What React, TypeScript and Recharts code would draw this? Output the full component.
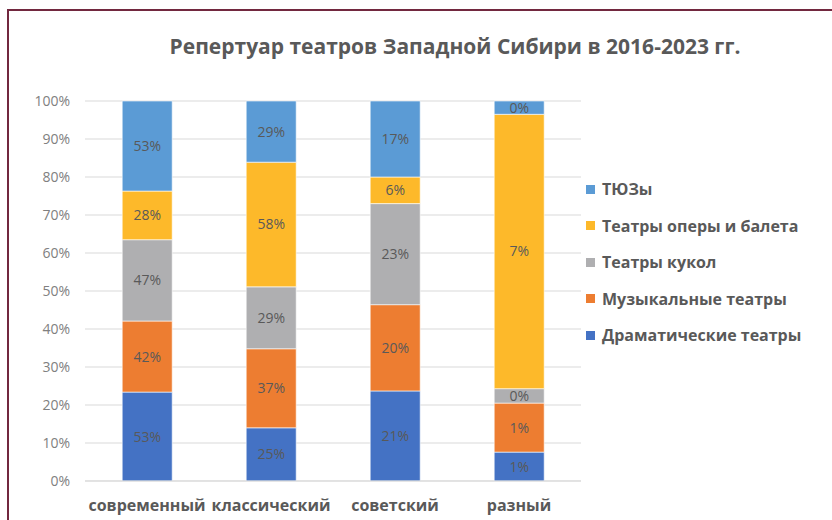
import { Bar, BarChart, CartesianGrid, LabelList, XAxis, YAxis } from "recharts";

const categories = ["современный", "классический", "советский", "разный"];

// segment heights (share of each bar)
const dramaShare = [23.4, 14.0, 23.7, 7.6];
const musicShare = [18.7, 20.8, 22.7, 12.9];
const puppetShare = [21.4, 16.3, 26.6, 3.8];
const operaShare = [12.8, 32.8, 7.0, 72.2];
const youthShare = [23.7, 16.1, 20.0, 3.5];

// data labels as printed on the segments
const dramaLabels = ["53%", "25%", "21%", "1%"];
const musicLabels = ["42%", "37%", "20%", "1%"];
const puppetLabels = ["47%", "29%", "23%", "0%"];
const operaLabels = ["28%", "58%", "6%", "7%"];
const youthLabels = ["53%", "29%", "17%", "0%"];

const yTicks = [0, 0.1, 0.2, 0.3, 0.4, 0.5, 0.6, 0.7, 0.8, 0.9, 1];

const FONT = "'Open Sans', 'Noto Sans', sans-serif";
const TEXT = "#595959";

const series = [
  { key: "drama", name: "Драматические театры", color: "#4472C4", share: dramaShare, labels: dramaLabels },
  { key: "music", name: "Музыкальные театры", color: "#ED7D31", share: musicShare, labels: musicLabels },
  { key: "puppet", name: "Театры кукол", color: "#AFAFB1", share: puppetShare, labels: puppetLabels },
  { key: "opera", name: "Театры оперы и балета", color: "#FDB92A", share: operaShare, labels: operaLabels },
  { key: "youth", name: "ТЮЗы", color: "#5B9BD5", share: youthShare, labels: youthLabels },
];

const data = categories.map((name, i) => {
  const row: Record<string, string | number> = { name };
  series.forEach(s => {
    row[s.key] = s.share[i];
    row[s.key + "Label"] = s.labels[i];
  });
  return row;
});

function LegendBox() {
  const items = [...series].reverse();
  return (
    <div style={{ position: "absolute", left: 586, top: 171, fontFamily: FONT }}>
      {items.map(s => (
        <div key={s.key} style={{ display: "flex", alignItems: "center", height: 36.5 }}>
          <span style={{ width: 9, height: 9, background: s.color, marginRight: 7 }} />
          <span style={{ fontSize: 16, fontWeight: 700, color: TEXT, whiteSpace: "nowrap" }}>{s.name}</span>
        </div>
      ))}
    </div>
  );
}

export default function App() {
  return (
    <div style={{ position: "absolute", left: 0, top: 0, width: 832, height: 520, overflow: "hidden", background: "#fff" }}>
      <div style={{ position: "absolute", left: 7, top: 9, width: 900, height: 600, border: "2px solid #72283f" }} />
      <div
        style={{
          position: "absolute", left: 0, top: 33, width: 910, textAlign: "center",
          fontFamily: FONT, fontSize: 21, fontWeight: 700, color: TEXT, lineHeight: "26px",
        }}
      >
        Репертуар театров Западной Сибири в 2016-2023 гг.
      </div>
      <div style={{ position: "absolute", left: 0, top: 0 }}>
        <BarChart
          width={832}
          height={520}
          data={data}
          stackOffset="expand"
          barCategoryGap="30%"
          margin={{ top: 101, right: 251, bottom: 0, left: 0 }}
        >
          <CartesianGrid vertical={false} stroke="#d9d9d9" />
          <XAxis
            dataKey="name"
            height={39}
            interval={0}
            axisLine={{ stroke: "#d9d9d9" }}
            tickLine={false}
            tickSize={0}
            tickMargin={19}
            tick={{ fill: TEXT, fontSize: 16, fontWeight: 700, fontFamily: FONT }}
          />
          <YAxis
            width={85}
            domain={[0, 1]}
            ticks={yTicks}
            axisLine={false}
            tickLine={false}
            tickSize={0}
            tickMargin={15}
            tickFormatter={(v: number) => `${Math.round(v * 100)}%`}
            tick={{ fill: "#808080", fontSize: 14, fontFamily: FONT }}
          />
          {series.map(s => (
            <Bar
              key={s.key}
              dataKey={s.key}
              name={s.name}
              stackId="a"
              fill={s.color}
              stroke="#ffffff"
              strokeWidth={0.6}
              isAnimationActive={false}
            >
              <LabelList
                dataKey={s.key + "Label"}
                position="center"
                fill={TEXT}
                fontSize={14}
                fontFamily={FONT}
              />
            </Bar>
          ))}
        </BarChart>
      </div>
      <LegendBox />
    </div>
  );
}
